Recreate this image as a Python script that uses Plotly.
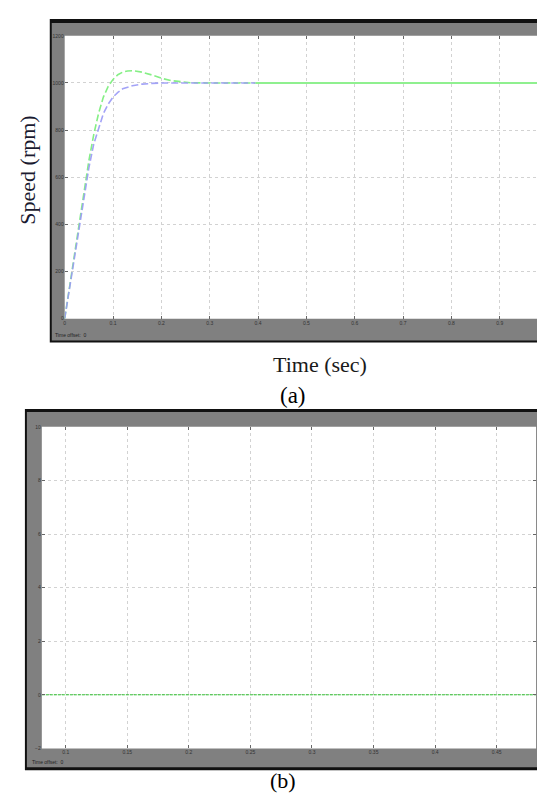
import plotly.graph_objects as go

W, H = 545, 793

# ---------------- data (a) ----------------
t_blue = [0, 0.01, 0.02, 0.03, 0.04, 0.05, 0.06, 0.07, 0.08, 0.09, 0.10, 0.11,
          0.12, 0.14, 0.16, 0.18, 0.20, 0.25, 0.30, 0.35, 0.395]
speed_blue = [0, 130, 260, 390, 520, 640, 740, 810, 870, 910, 940, 960,
              975, 988, 995, 998, 1000, 1000, 1000, 1000, 1000]

t_green = [0, 0.01, 0.02, 0.03, 0.04, 0.05, 0.06, 0.07, 0.08, 0.09, 0.10, 0.11,
           0.12, 0.13, 0.14, 0.15, 0.16, 0.18, 0.20, 0.22, 0.24, 0.26, 0.30, 0.35, 0.395]
speed_green = [0, 135, 270, 405, 540, 670, 780, 870, 940, 985, 1015, 1035,
               1046, 1051, 1052, 1050, 1046, 1034, 1020, 1010, 1004, 1001, 1000, 1000, 1000]

t_steady = [0.395, 1.0]
speed_steady = [1000, 1000]

# ---------------- data (b) ----------------
t_b = [0.0806, 0.482]
val_b = [0, 0]

# ---------------- geometry helpers ----------------
def px(x):
    return x / W

def py(y):
    return 1 - y / H

fig = go.Figure()

fig.add_trace(go.Scatter(x=t_green, y=speed_green, mode="lines",
                         line=dict(color="#86ef86", width=1.6, dash="7px,3px"),
                         xaxis="x", yaxis="y", showlegend=False))
fig.add_trace(go.Scatter(x=t_blue, y=speed_blue, mode="lines",
                         line=dict(color="#9a9af7", width=1.6, dash="7px,3px"),
                         opacity=0.9, xaxis="x", yaxis="y", showlegend=False))
fig.add_trace(go.Scatter(x=t_steady, y=speed_steady, mode="lines",
                         line=dict(color="#8ff08f", width=2),
                         xaxis="x", yaxis="y", showlegend=False))
fig.add_trace(go.Scatter(x=t_b, y=val_b, mode="lines",
                         line=dict(color="#2ec02e", width=1, dash="3px,1px"),
                         xaxis="x2", yaxis="y2", showlegend=False))

shapes = []
def rect(x0, y0, x1, y1, color):
    shapes.append(dict(type="rect", xref="paper", yref="paper", layer="below",
                       x0=px(x0), x1=px(x1), y0=py(y1), y1=py(y0),
                       fillcolor=color, line=dict(width=0)))

# panel (a) frame
rect(41, 8, 548, 334, "#111111")
rect(43, 12, 548, 332, "#808080")
rect(56, 25, 542, 310, "#ffffff")
# panel (b) frame
rect(16, 401, 540, 765, "#111111")
rect(18, 404, 537, 762, "#808080")
rect(33, 419, 530, 743, "#ffffff")

axis_common = dict(showgrid=True, gridcolor="#d2d2d2", griddash="dot", gridwidth=1,
                   ticks="inside", ticklen=3, tickcolor="#666666", mirror="ticks",
                   showline=False, zeroline=False,
                   tickfont=dict(size=5, color="#333333", family="Arial"))

fig.update_layout(
    width=W, height=H,
    margin=dict(l=0, r=0, t=0, b=0),
    paper_bgcolor="#ffffff",
    plot_bgcolor="rgba(0,0,0,0)",
    shapes=shapes,
    xaxis=dict(domain=[px(56), px(542)], range=[0, 1], tick0=0, dtick=0.1,
               anchor="y", **axis_common),
    yaxis=dict(domain=[py(310), py(25)], range=[0, 1200], tick0=0, dtick=200,
               anchor="x", **axis_common),
    xaxis2=dict(domain=[px(33), px(530)], range=[0.0806, 0.482], tick0=0, dtick=0.05,
                anchor="y2", **axis_common),
    yaxis2=dict(domain=[py(743), py(419)], range=[-2, 10], tick0=0, dtick=2,
                anchor="x2", **axis_common),
)

serif = "Liberation Serif, Times New Roman, serif"
ann = [
    dict(text="Speed (rpm)", x=px(19), y=py(160), textangle=-90,
         font=dict(family=serif, size=22, color="#1a1a30")),
    dict(text="Time (sec)", x=px(313), y=py(356),
         font=dict(family=serif, size=22, color="#1a1a1a")),
    dict(text="(a)", x=px(286), y=py(387),
         font=dict(family=serif, size=23, color="#000000")),
    dict(text="(b)", x=px(276), y=py(790), yanchor="bottom",
         font=dict(family=serif, size=22, color="#000000")),
    dict(text="Time offset:  0", x=px(44), y=py(326), xanchor="left",
         font=dict(family="Arial", size=5, color="#222222")),
    dict(text="Time offset:  0", x=px(21), y=py(757), xanchor="left",
         font=dict(family="Arial", size=5, color="#222222")),
]
for a in ann:
    a.setdefault("xanchor", "center")
    a.setdefault("yanchor", "middle")
    a.update(xref="paper", yref="paper", showarrow=False)
fig.update_layout(annotations=ann)

fig.write_html("out.html")
